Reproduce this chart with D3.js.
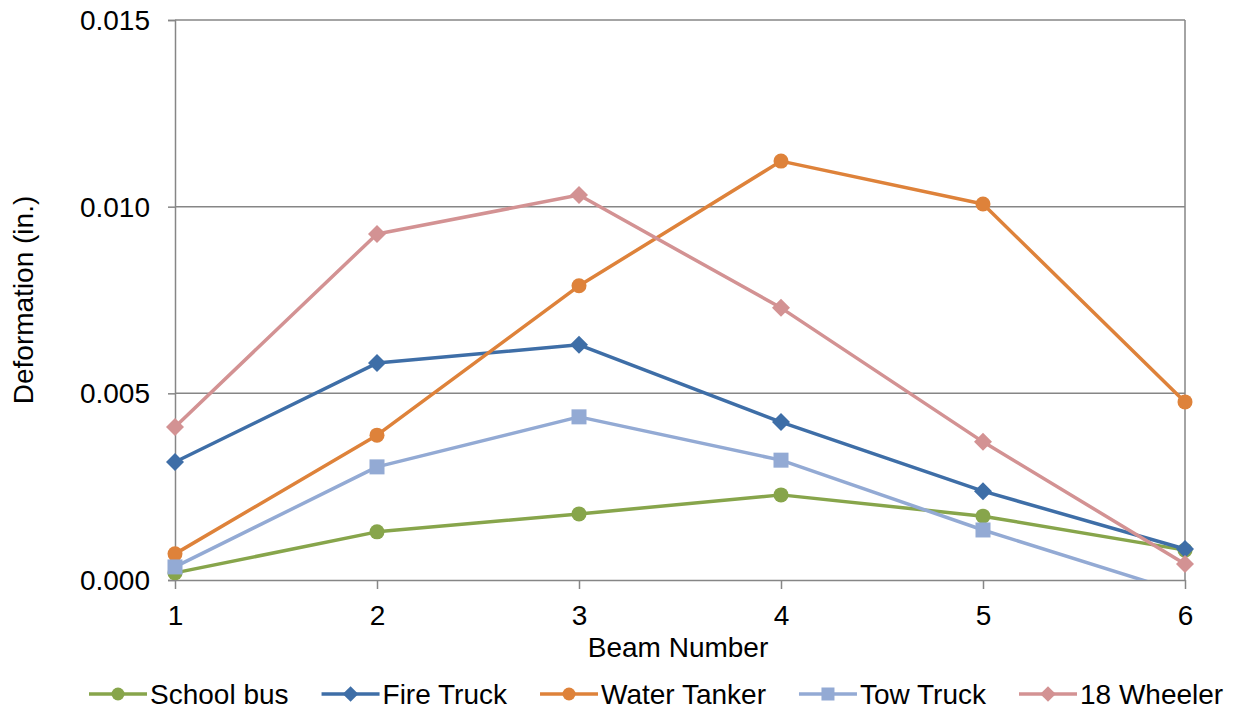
<!DOCTYPE html>
<html>
<head>
<meta charset="utf-8">
<script src="https://cdn.jsdelivr.net/npm/d3@7"></script>
<style>
  html, body { margin: 0; padding: 0; background: #fff; }
  svg { display: block; font-family: "Liberation Sans", Arial, sans-serif; }
</style>
</head>
<body>
<svg id="chart" width="1237" height="715"></svg>
<script>
const beams = [1, 2, 3, 4, 5, 6];
const seriesNames = ["School bus", "Fire Truck", "Water Tanker", "Tow Truck", "18 Wheeler"];
const schoolBus   = [0.00019, 0.00129, 0.00177, 0.00228, 0.00171, 0.00080];
const fireTruck   = [0.00316, 0.00581, 0.00630, 0.00423, 0.00238, 0.00083];
const waterTanker = [0.00070, 0.00388, 0.00788, 0.01122, 0.01007, 0.00477];
const towTruck    = [0.00035, 0.00303, 0.00437, 0.00321, 0.00134, -0.00036];
const wheeler18   = [0.00410, 0.00927, 0.01031, 0.00729, 0.00370, 0.00043];
const yTicks = [0, 0.005, 0.010, 0.015];
const xLabel = "Beam Number";
const yLabel = "Deformation (in.)";

const seriesValues = [schoolBus, fireTruck, waterTanker, towTruck, wheeler18];
const colors = ["#87A54B", "#3E6EA7", "#DE823A", "#93AAD4", "#D39293"];
const markers = ["circle", "diamond", "circle", "square", "diamond"];

const svg = d3.select("#chart");
const margin = {left: 175, top: 20, right: 52, bottom: 135};
const W = 1237, H = 715;
const iw = W - margin.left - margin.right;
const ih = H - margin.top - margin.bottom;
const FS = 28;

const x = d3.scaleLinear().domain([1, 6]).range([0, iw]);
const y = d3.scaleLinear().domain([0, 0.015]).range([ih, 0]);

const g = svg.append("g").attr("transform", `translate(${margin.left},${margin.top})`);
const axisColor = "#868686";

// gridlines
g.append("g").selectAll("line").data(yTicks.filter(d => d > 0)).join("line")
  .attr("x1", 0).attr("x2", iw)
  .attr("y1", d => y(d)).attr("y2", d => y(d))
  .attr("stroke", axisColor).attr("stroke-width", 1.5);
// right border
g.append("line").attr("x1", iw).attr("x2", iw).attr("y1", 0).attr("y2", ih)
  .attr("stroke", axisColor).attr("stroke-width", 1.5);

// y axis
const yAxis = g.append("g").call(d3.axisLeft(y).tickValues(yTicks).tickFormat(d3.format(".3f")).tickSize(7).tickPadding(18));
yAxis.select(".domain").attr("stroke", axisColor).attr("stroke-width", 1.5);
yAxis.selectAll(".tick line").attr("stroke", axisColor).attr("stroke-width", 1.5);
yAxis.selectAll("text").attr("font-size", FS).attr("fill", "#000").attr("font-family", "Liberation Sans, Arial, sans-serif").attr("dy", "0.34em");

// x axis
const xAxis = g.append("g").attr("transform", `translate(0,${ih})`)
  .call(d3.axisBottom(x).tickValues(beams).tickFormat(d3.format("d")).tickSize(9).tickPadding(16).tickSizeOuter(0));
xAxis.select(".domain").attr("stroke", axisColor).attr("stroke-width", 1.5);
xAxis.selectAll(".tick line").attr("stroke", axisColor).attr("stroke-width", 1.5);
xAxis.selectAll("text").attr("font-size", FS).attr("fill", "#000").attr("font-family", "Liberation Sans, Arial, sans-serif");

// axis titles
svg.append("text").attr("x", margin.left + iw / 2 - 2).attr("y", 657)
  .attr("text-anchor", "middle").attr("font-size", FS).text(xLabel);
svg.append("text").attr("transform", `translate(33,${margin.top + ih / 2}) rotate(-90)`)
  .attr("text-anchor", "middle").attr("font-size", FS).text(yLabel);

// clip
svg.append("clipPath").attr("id", "plotclip").append("rect")
  .attr("x", -20).attr("y", -20).attr("width", iw + 40).attr("height", ih + 20);

function drawMarker(sel, type, color, s) {
  if (type === "circle") {
    sel.append("circle").attr("r", s).attr("fill", color);
  } else if (type === "diamond") {
    sel.append("path").attr("d", `M0,${-s*1.2}L${s*1.2},0L0,${s*1.2}L${-s*1.2},0Z`).attr("fill", color);
  } else {
    sel.append("rect").attr("x", -s).attr("y", -s).attr("width", 2*s).attr("height", 2*s).attr("fill", color);
  }
}

const plot = g.append("g").attr("clip-path", "url(#plotclip)");
const line = d3.line().x((d, i) => x(beams[i])).y(d => y(d));
seriesValues.forEach((vals, si) => {
  const sg = plot.append("g");
  sg.append("path").attr("d", line(vals)).attr("fill", "none")
    .attr("stroke", colors[si]).attr("stroke-width", 3.5).attr("stroke-linejoin", "round");
  vals.forEach((v, i) => {
    const m = sg.append("g").attr("transform", `translate(${x(beams[i])},${y(v)})`);
    drawMarker(m, markers[si], colors[si], 7.5);
  });
});

// legend
const legend = svg.append("g");
let lx = 89;
const ly = 694;
seriesNames.forEach((name, si) => {
  const it = legend.append("g");
  it.append("line").attr("x1", lx).attr("x2", lx + 58).attr("y1", ly).attr("y2", ly)
    .attr("stroke", colors[si]).attr("stroke-width", 3.5);
  const m = it.append("g").attr("transform", `translate(${lx + 29},${ly})`);
  drawMarker(m, markers[si], colors[si], 6.5);
  const t = it.append("text").attr("x", lx + 61).attr("y", ly + 10).attr("font-size", FS).text(name);
  lx = lx + 61 + t.node().getComputedTextLength() + 33;
});
</script>
</body>
</html>
